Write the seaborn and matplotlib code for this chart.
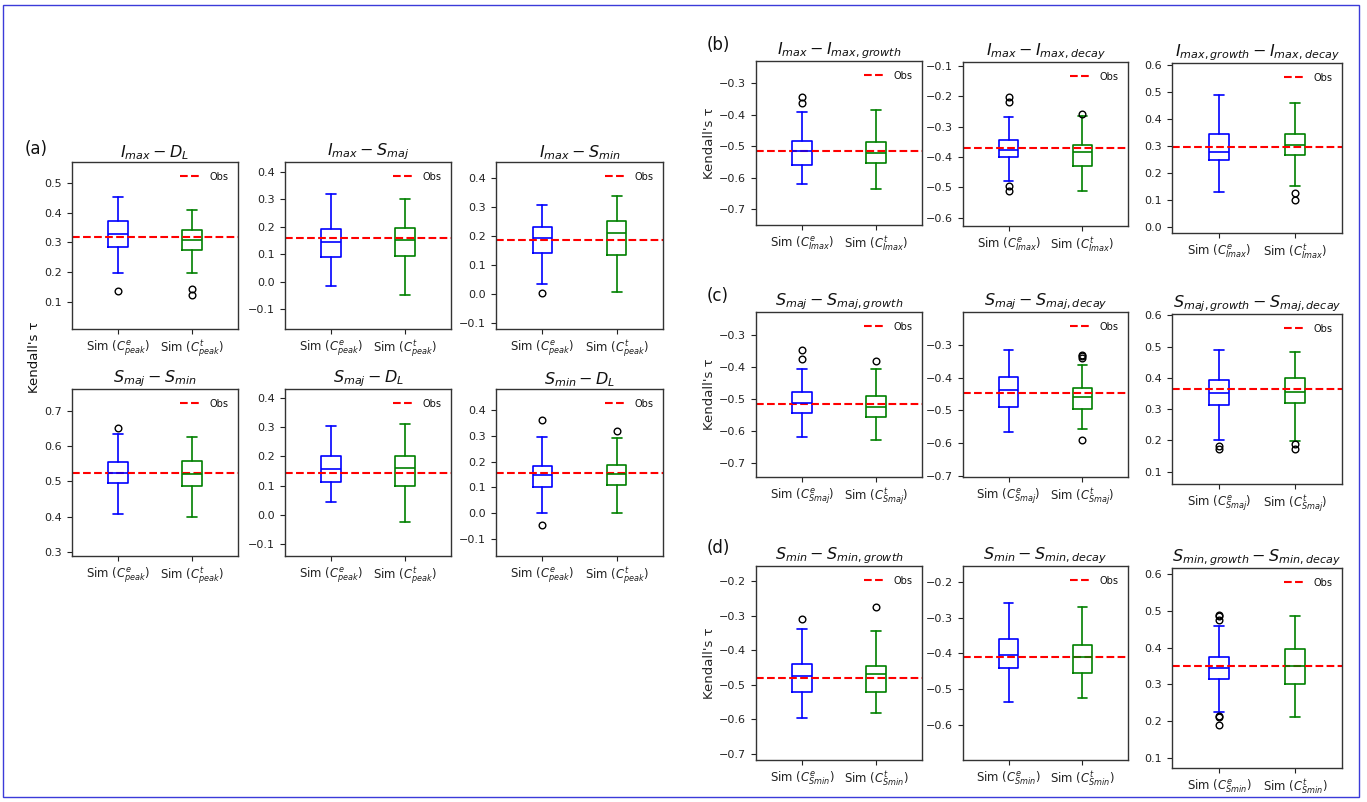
import matplotlib
matplotlib.use("Agg")
import matplotlib.pyplot as plt
from matplotlib.patches import Rectangle
from matplotlib.ticker import MultipleLocator
import seaborn as sns

# ---- box statistics: [lower whisker, Q1, median, Q3, upper whisker] ----
# (a) peak-based pairs
titles_a = [r"$I_{max} - D_L$", r"$I_{max} - S_{maj}$", r"$I_{max} - S_{min}$",
            r"$S_{maj} - S_{min}$", r"$S_{maj} - D_L$", r"$S_{min} - D_L$"]
obs_a = [0.319, 0.158, 0.185, 0.525, 0.144, 0.156]
emp_a = [[0.195, 0.283, 0.327, 0.372, 0.455],
         [-0.015, 0.088, 0.143, 0.192, 0.317],
         [0.032, 0.142, 0.193, 0.231, 0.308],
         [0.407, 0.495, 0.525, 0.555, 0.633],
         [0.045, 0.114, 0.158, 0.201, 0.303],
         [0.000, 0.100, 0.148, 0.182, 0.294]]
emp_out_a = [[0.135], [], [0.002], [0.652], [], [0.361, -0.046]]
thr_a = [[0.195, 0.273, 0.309, 0.342, 0.410],
         [-0.050, 0.094, 0.153, 0.194, 0.300],
         [0.007, 0.135, 0.210, 0.250, 0.338],
         [0.400, 0.487, 0.522, 0.557, 0.625],
         [-0.024, 0.099, 0.162, 0.203, 0.311],
         [0.000, 0.110, 0.151, 0.187, 0.292]]
thr_out_a = [[0.141, 0.121], [], [], [], [], [0.318]]
yrange_a = [(0.007, 0.572), (-0.172, 0.435), (-0.122, 0.455),
            (0.288, 0.762), (-0.141, 0.431), (-0.166, 0.482)]
xlabels_a = [r"Sim ($C^{e}_{peak}$)", r"Sim ($C^{t}_{peak}$)"]

# (b) Imax growth / decay
titles_b = [r"$I_{max} - I_{max,growth}$", r"$I_{max} - I_{max,decay}$",
            r"$I_{max,growth} - I_{max,decay}$"]
obs_b = [-0.517, -0.371, 0.295]
emp_b = [[-0.621, -0.559, -0.514, -0.483, -0.392],
         [-0.478, -0.401, -0.376, -0.343, -0.269],
         [0.128, 0.248, 0.279, 0.346, 0.490]]
emp_out_b = [[-0.342, -0.362], [-0.202, -0.219, -0.497, -0.513], []]
thr_b = [[-0.637, -0.554, -0.521, -0.486, -0.385],
         [-0.513, -0.429, -0.384, -0.361, -0.264],
         [0.153, 0.268, 0.306, 0.346, 0.462]]
thr_out_b = [[], [-0.257], [0.124, 0.100]]
yrange_b = [(-0.751, -0.229), (-0.628, -0.086), (-0.023, 0.609)]
xlabels_b = [r"Sim ($C^{e}_{Imax}$)", r"Sim ($C^{t}_{Imax}$)"]

# (c) Smaj growth / decay
titles_c = [r"$S_{maj} - S_{maj,growth}$", r"$S_{maj} - S_{maj,decay}$",
            r"$S_{maj,growth} - S_{maj,decay}$"]
obs_c = [-0.515, -0.448, 0.364]
emp_c = [[-0.617, -0.544, -0.514, -0.477, -0.408],
         [-0.566, -0.489, -0.439, -0.397, -0.316],
         [0.200, 0.313, 0.350, 0.392, 0.489]]
emp_out_c = [[-0.346, -0.374], [], [0.183, 0.171]]
thr_c = [[-0.629, -0.557, -0.524, -0.490, -0.407],
         [-0.556, -0.495, -0.460, -0.432, -0.362],
         [0.197, 0.320, 0.355, 0.398, 0.482]]
thr_out_c = [[-0.383], [-0.331, -0.336, -0.341, -0.590], [0.188, 0.172]]
yrange_c = [(-0.743, -0.229), (-0.703, -0.2005), (0.060, 0.604)]
xlabels_c = [r"Sim ($C^{e}_{Smaj}$)", r"Sim ($C^{t}_{Smaj}$)"]

# (d) Smin growth / decay
titles_d = [r"$S_{min} - S_{min,growth}$", r"$S_{min} - S_{min,decay}$",
            r"$S_{min,growth} - S_{min,decay}$"]
obs_d = [-0.480, -0.410, 0.350]
emp_d = [[-0.595, -0.520, -0.475, -0.440, -0.340],
         [-0.535, -0.440, -0.405, -0.360, -0.260],
         [0.225, 0.315, 0.345, 0.375, 0.460]]
emp_out_d = [[-0.310], [], [0.490, 0.485, 0.475, 0.215, 0.210, 0.190]]
thr_d = [[-0.580, -0.520, -0.470, -0.445, -0.345],
         [-0.525, -0.455, -0.410, -0.375, -0.270],
         [0.210, 0.300, 0.350, 0.395, 0.485]]
thr_out_d = [[-0.275], [], []]
yrange_d = [(-0.717, -0.157), (-0.697, -0.156), (0.072, 0.617)]
xlabels_d = [r"Sim ($C^{e}_{Smin}$)", r"Sim ($C^{t}_{Smin}$)"]

# ---- style ----
sns.set_style("ticks")
plt.rcParams.update({
    "axes.edgecolor": "#333333",
    "axes.linewidth": 1.0,
    "xtick.major.size": 3.5,
    "ytick.major.size": 3.5,
    "xtick.major.width": 0.8,
    "ytick.major.width": 0.8,
    "xtick.color": "#222222",
    "ytick.color": "#222222",
    "text.color": "#111111",
    "font.family": ["DejaVu Sans"],
})

W, H = 1367, 802
fig = plt.figure(figsize=(W / 100, H / 100), dpi=100)


def place(box):
    left, top, right, bottom = box
    return fig.add_axes([left / W, 1 - bottom / H, (right - left) / W, (bottom - top) / H])


def one_box(ax, pos, s, out, color):
    stat = dict(whislo=s[0], q1=s[1], med=s[2], q3=s[3], whishi=s[4], fliers=out)
    line = dict(color=color, lw=1.2)
    ax.bxp([stat], positions=[pos], widths=0.26, manage_ticks=False,
           boxprops=line, whiskerprops=line, capprops=line, medianprops=line,
           flierprops=dict(marker="o", markerfacecolor="none", markeredgecolor="black",
                           markersize=4.8, markeredgewidth=1.0))


def panel(ax, title, obs, e, eo, t, to, yr, xlabels, ylabel=False):
    one_box(ax, 1, e, eo, "blue")
    one_box(ax, 2, t, to, "green")
    ax.axhline(obs, color="red", ls="--", lw=1.5, label="Obs")
    ax.legend(loc="upper right", frameon=False, fontsize=7, handlelength=2.2,
              borderaxespad=0.6)
    ax.set_xlim(0.38, 2.62)
    ax.set_ylim(*yr)
    ax.yaxis.set_major_locator(MultipleLocator(0.1))
    ax.set_xticks([1, 2])
    ax.set_xticklabels(xlabels, fontsize=8.4)
    ax.tick_params(axis="y", labelsize=8)
    ax.set_title(title, fontsize=11.5, pad=3)
    for sp in ax.spines.values():
        sp.set_visible(True)
    if ylabel:
        ax.set_ylabel("Kendall's τ", fontsize=9.5, labelpad=2)


# (a) grid: two rows of three
cols_a = [(72, 238), (285, 451), (496, 663)]
rows_a = [(162, 329), (389, 556)]
for i in range(6):
    r, c = divmod(i, 3)
    ax = place((cols_a[c][0], rows_a[r][0], cols_a[c][1], rows_a[r][1]))
    panel(ax, titles_a[i], obs_a[i], emp_a[i], emp_out_a[i], thr_a[i], thr_out_a[i],
          yrange_a[i], xlabels_a)

fig.text(34 / W, 1 - 357 / H, "Kendall's τ", rotation=90, fontsize=9.5,
         ha="center", va="center")
fig.text(25 / W, 1 - 149 / H, "(a)", fontsize=12, ha="left", va="center")

# (b), (c), (d): one row of three each (left, top, right, bottom in pixels)
boxes_r = [
    [(756, 61, 922, 225), (963, 62, 1128, 226), (1172, 63, 1342, 233)],
    [(756, 312, 922, 477), (963, 312, 1128, 477), (1172, 314, 1342, 484)],
    [(756, 566, 922, 760), (963, 566, 1128, 760), (1172, 568, 1342, 768)],
]
groups = [
    (titles_b, obs_b, emp_b, emp_out_b, thr_b, thr_out_b, yrange_b, xlabels_b, "(b)", 45),
    (titles_c, obs_c, emp_c, emp_out_c, thr_c, thr_out_c, yrange_c, xlabels_c, "(c)", 296),
    (titles_d, obs_d, emp_d, emp_out_d, thr_d, thr_out_d, yrange_d, xlabels_d, "(d)", 548),
]
for r, (tt, ob, ee, eeo, th, tho, yr, xl, tag, ty) in enumerate(groups):
    for c in range(3):
        ax = place(boxes_r[r][c])
        panel(ax, tt[c], ob[c], ee[c], eeo[c], th[c], tho[c], yr[c], xl, ylabel=(c == 0))
    fig.text(707 / W, 1 - ty / H, tag, fontsize=12, ha="left", va="center")

# thin frame around the whole figure
fig.patches.append(Rectangle((3 / W, 5 / H), (1359 - 3) / W, (797 - 5) / H,
                             transform=fig.transFigure, fill=False,
                             edgecolor="#3b3bd9", lw=1.0))

fig.savefig("out.png", dpi=100)
